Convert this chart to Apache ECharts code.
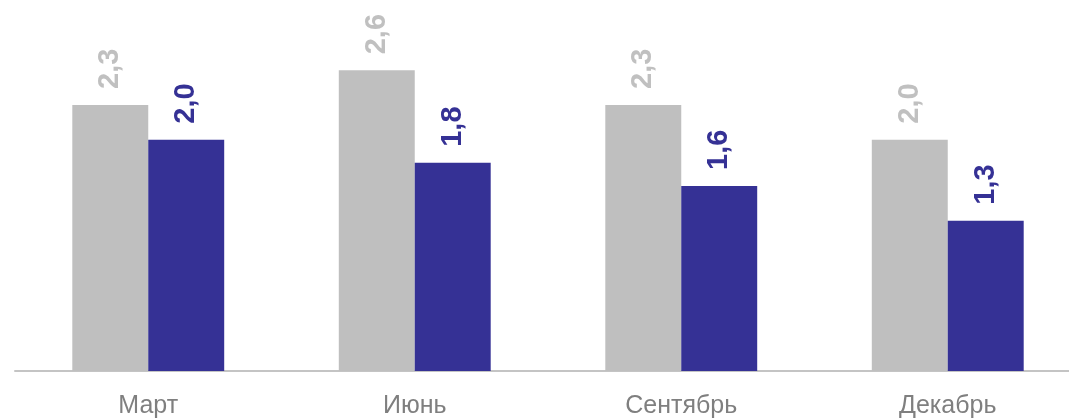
<!DOCTYPE html>
<html>
<head>
<meta charset="utf-8">
<script src="https://cdn.jsdelivr.net/npm/echarts@6/dist/echarts.min.js"></script>
<style>html,body{margin:0;padding:0;background:#fff}#c{width:1069px;height:419px}</style>
</head>
<body>
<div id="c"></div>
<script>
var categories = ['Март', 'Июнь', 'Сентябрь', 'Декабрь'];
var seriesGray = [2.3, 2.6, 2.3, 2.0];
var seriesBlue = [2.0, 1.8, 1.6, 1.3];

var chart = echarts.init(document.getElementById('c'));
function fmt(p){ return p.value.toFixed(1).replace('.', ','); }
chart.setOption({
  animation: false,
  grid: { left: 15, top: 24, right: -12, height: 347, containLabel: false, outerBoundsMode: 'none' },
  xAxis: {
    type: 'category',
    data: categories,
    axisLine: { lineStyle: { color: '#c4c4c4', width: 2 } },
    axisTick: { show: false },
    axisLabel: { color: '#7f7f7f', fontSize: 25, fontFamily: 'Liberation Sans, Arial, sans-serif', margin: 23 }
  },
  yAxis: { type: 'value', min: 0, max: 3, show: false, splitLine: { show: false } },
  series: [
    {
      type: 'bar', data: seriesGray, barGap: '0%', barCategoryGap: '43%',
      itemStyle: { color: '#bfbfbf' },
      label: { show: true, position: 'top', rotate: 90, align: 'left', verticalAlign: 'middle', distance: 16,
        color: '#c0c0c0', fontSize: 29, fontWeight: 'bold', fontFamily: 'Liberation Sans, Arial, sans-serif', formatter: fmt }
    },
    {
      type: 'bar', data: seriesBlue, barGap: '0%', barCategoryGap: '43%',
      itemStyle: { color: '#353195' },
      label: { show: true, position: 'top', rotate: 90, align: 'left', verticalAlign: 'middle', distance: 16,
        color: '#353195', fontSize: 29, fontWeight: 'bold', fontFamily: 'Liberation Sans, Arial, sans-serif', formatter: fmt }
    }
  ]
});
</script>
</body>
</html>
